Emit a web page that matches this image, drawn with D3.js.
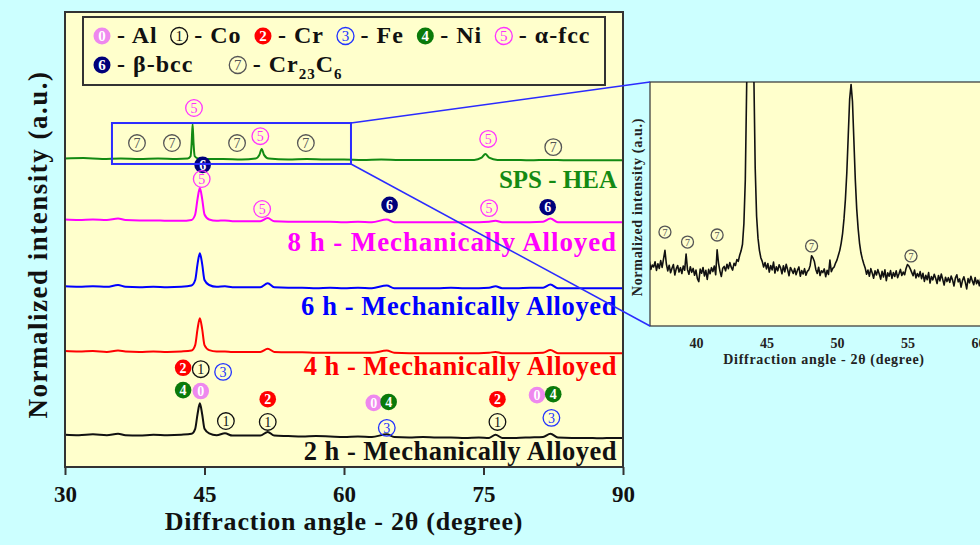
<!DOCTYPE html>
<html>
<head>
<meta charset="utf-8">
<script src="https://cdn.jsdelivr.net/npm/d3@7"></script>
<style>
  body { margin: 0; background: #ccffff; }
  svg { display: block; font-family: "Liberation Serif", "Times New Roman", serif; font-weight: bold; }
</style>
</head>
<body>
<script>
// ---- data ----
const xTicks = [30, 45, 60, 75, 90];
const insetTicks = [40, 45, 50, 55, 60];

// angle grid shared by the four mechanically alloyed scans
const gridMA = [30, 31.5, 33, 34.5, 35.7, 36.5, 38, 39.5, 41, 42.5,
  43.6, 44.0, 44.25, 44.5, 44.75, 45.0, 45.5, 46.3, 47.2, 48.0,
  49.5, 51.0, 51.8, 52.5, 54, 55.5, 57, 58.5, 60, 61.5,
  63, 64.6, 65.4, 67, 68.5, 70, 71.5, 73, 74.5, 75.6,
  76.3, 77, 78.5, 80, 81.4, 82.2, 83, 84.5, 86, 87.5,
  89, 90];
const int2h = [0.1, 0.0, 0.2, 0.0, 0.3, 0.0, -0.1, 0.1, 0.0, 0.1,
  0.3, 1.4, 4.6, 7.0, 4.6, 1.4, 0.4, 0.0, 0.4, -0.1,
  -0.1, -0.1, 0.7, -0.1, -0.2, -0.3, -0.2, -0.3, -0.4, -0.3,
  -0.4, 0.2, -0.4, -0.5, -0.4, -0.5, -0.5, -0.6, -0.5, -0.6,
  0.1, -0.6, -0.6, -0.5, -0.4, 0.3, -0.5, -0.6, -0.6, -0.7,
  -0.6, -0.6];
const int4h = [0.2, 0.1, 0.2, 0.0, 0.3, 0.1, 0.0, 0.1, 0.0, 0.1,
  0.3, 1.5, 5.0, 7.4, 5.0, 1.5, 0.4, 0.1, 0.1, 0.0,
  0.0, 0.0, 0.7, 0.0, -0.1, -0.1, -0.2, -0.2, -0.2, -0.2,
  -0.2, 0.3, -0.2, -0.3, -0.3, -0.3, -0.3, -0.3, -0.3, -0.2,
  0.0, -0.3, -0.3, -0.3, -0.2, 0.4, -0.3, -0.3, -0.3, -0.3,
  -0.3, -0.3];
const int6h = [0.1, 0.0, 0.1, 0.0, 0.4, 0.0, -0.1, 0.0, -0.1, 0.0,
  0.3, 1.5, 5.0, 7.4, 5.0, 1.5, 0.4, 0.0, 0.1, -0.1,
  -0.1, -0.1, 0.8, -0.1, -0.2, -0.2, -0.3, -0.2, -0.3, -0.2,
  -0.3, 0.3, -0.3, -0.3, -0.3, -0.3, -0.2, -0.3, -0.3, -0.2,
  0.1, -0.3, -0.3, -0.2, -0.2, 0.5, -0.3, -0.3, -0.3, -0.3,
  -0.3, -0.3];
const int8h = [0.3, 0.2, 0.3, 0.2, 0.5, 0.2, 0.1, 0.1, 0.0, 0.0,
  0.2, 1.4, 4.8, 7.2, 4.8, 1.4, 0.3, 0.0, 0.1, -0.1,
  -0.1, -0.1, 0.6, -0.1, -0.2, -0.2, -0.2, -0.2, -0.3, -0.2,
  -0.3, 0.3, -0.3, -0.3, -0.3, -0.3, -0.3, -0.3, -0.3, -0.2,
  0.0, -0.3, -0.3, -0.3, -0.2, 0.5, -0.3, -0.3, -0.3, -0.3,
  -0.3, -0.3];

const gridSPS = [30, 32, 34, 36, 38, 40, 42, 43.2, 43.5, 43.62,
  43.72, 43.82, 43.95, 44.3, 45, 47, 49, 50.5, 50.9, 51.15,
  51.4, 51.9, 54, 56, 58, 60, 62, 64, 66, 68,
  70, 72, 74, 74.8, 75.2, 75.6, 76.5, 78, 80, 82,
  84, 86, 88, 90];
const intSPS = [0.1, 0.2, 0.0, 0.1, 0.0, 0.1, 0.0, 0.1, 0.6, 3.5,
  7.7, 3.5, 0.6, 0.1, 0.0, 0.0, -0.1, 0.1, 0.9, 2.2,
  0.9, 0.1, -0.1, 0.0, -0.1, -0.1, -0.2, -0.1, -0.2, -0.2,
  -0.2, -0.2, -0.2, 0.3, 1.1, 0.3, -0.2, -0.2, -0.3, -0.2,
  -0.3, -0.3, -0.3, -0.3];

const seriesNames = ["2 h - Mechanically Alloyed", "4 h - Mechanically Alloyed",
  "6 h - Mechanically Alloyed", "8 h - Mechanically Alloyed", "SPS - HEA"];
const seriesOffsets = [7.0, 25.3, 39.6, 54.1, 67.7];

const legendNums = [0, 1, 2, 3, 4, 5, 6, 7];
const legendText = ["- Al", "- Co", "- Cr", "- Fe", "- Ni", "- α-fcc", "- β-bcc", "- Cr23C6"];

// [phase number, 2θ, level]
const peakMarks = [
  [6, 44.8, 66.4], [5, 44.7, 63.3],
  [5, 43.87, 78.9], [7, 37.74, 71.2], [7, 41.5, 71.2], [7, 48.5, 71.2], [5, 51.0, 72.7],
  [7, 55.9, 71.2], [5, 75.5, 72.1], [7, 82.5, 70.3],
  [5, 51.2, 56.7], [6, 64.9, 57.6], [5, 75.6, 56.9], [6, 81.9, 57.1],
  [2, 42.7, 21.8], [1, 44.6, 21.5], [3, 47.0, 20.9], [4, 42.7, 16.9], [0, 44.6, 16.7],
  [1, 47.3, 10.1], [2, 51.8, 14.9], [1, 51.8, 9.9],
  [0, 63.2, 14.1], [4, 64.8, 14.3], [3, 64.6, 8.6],
  [2, 76.5, 14.9], [1, 76.5, 9.9],
  [0, 80.75, 15.8], [4, 82.5, 16.0], [3, 82.3, 10.8]
];

// SPS-HEA detail scan, 36.0 to 60.9 degree in 0.1 degree steps
const insetStart = 36.0, insetStep = 0.1;
const insetInt = [
  25.2, 23.8, 26.1, 24.5, 22.9, 25.8, 24.1, 26.4, 23.2, 25.0,
  24.2, 26.3, 22.8, 25.5, 23.6, 26.8, 24.0, 27.5, 31.0, 25.4,
  22.6, 24.9, 21.8, 23.7, 25.2, 20.9, 23.4, 24.8, 22.1, 23.9,
  21.5, 24.6, 22.9, 29.5, 23.1, 21.2, 24.3, 22.0, 23.6, 20.8,
  22.9, 19.4, 18.2, 23.3, 21.6, 24.0, 20.5, 22.8, 19.1, 23.2,
  21.4, 23.9, 22.3, 24.6, 21.0, 31.2, 25.8, 22.5, 20.3, 23.7,
  24.4, 22.6, 25.3, 23.5, 26.0, 24.1, 22.9, 25.7, 24.8, 27.2,
  26.5, 29.0, 30.8, 33.5, 42.0, 60.0, 100, 170, 240, 260,
  200, 105, 65, 45, 36, 31, 28, 26.5, 24.2, 26.0,
  23.4, 25.6, 22.1, 24.8, 23.0, 26.2, 21.7, 24.3, 22.6, 25.1,
  23.8, 21.4, 24.7, 22.2, 25.3, 23.1, 20.6, 24.0, 22.8, 21.5,
  23.6, 21.0, 22.9, 24.2, 20.4, 22.7, 21.3, 23.5, 20.8, 22.4,
  23.0, 24.8, 28.8, 27.9, 26.4, 23.2, 21.5, 24.1, 20.7, 22.6,
  21.9, 23.4, 20.2, 22.8, 21.1, 27.0, 22.3, 23.6, 24.2, 25.8,
  27.0, 29.0, 31.0, 34.0, 38.0, 44.0, 52.0, 63.0, 78.0, 93.0,
  99.0, 92.0, 76.0, 60.0, 48.0, 40.0, 34.0, 30.0, 27.5, 25.5,
  23.8, 21.2, 22.9, 20.4, 23.5, 21.7, 19.6, 22.6, 20.9, 23.1,
  21.3, 19.2, 22.4, 20.1, 23.0, 18.6, 21.8, 20.4, 22.7, 19.5,
  21.9, 20.3, 22.6, 19.8, 21.4, 23.2, 20.7, 22.1, 21.0, 23.6,
  25.2, 24.6, 23.4, 22.0, 20.6, 22.9, 19.7, 21.5, 20.2, 22.3,
  19.4, 21.6, 18.3, 20.8, 19.0, 21.9, 17.6, 20.3, 18.9, 21.2,
  19.6, 17.4, 20.7, 18.5, 21.3, 19.1, 16.8, 20.0, 18.2, 19.8,
  17.9, 20.5, 18.8, 16.4, 19.7, 21.0, 18.1, 19.3, 15.9, 18.6,
  20.2, 18.0, 15.2, 19.4, 17.7, 20.4, 18.5, 16.9, 19.9, 17.3,
  18.8, 16.5, 19.6, 17.9, 20.1, 18.2, 16.7, 19.0, 17.5, 18.7
];
// [2θ, level] of the Cr23C6 marks in the detail
const insetMarks = [[37.8, 38.5], [39.4, 34.4], [41.5, 37.3], [48.2, 32.8], [55.25, 28.7]];
const zoomAngles = [35.05, 60.75];
const zoomLevels = [66.6, 75.6];

// ---- layout / style ----
const W = 980, H = 545;
const plot = {left: 65, right: 623, top: 12, bottom: 467};
const inset = {left: 650, right: 985, top: 82, bottom: 326};
const seriesColors = ["#111111", "#ff0000", "#0000ff", "#ff00ff", "#138a13"];
const labelDrop = [25, 23, 28, 30, 29];        // px from trace baseline to label baseline
const labelSize = [26.5, 26.5, 26.5, 27, 25];
const labelSpacing = [0.5, 0.5, 0.6, 0.9, 0];
const markColors = ["#ee88ee", "#111111", "#ff0000", "#2233ff", "#0a7a0a", "#ff33ff", "#00007a", "#555555"];
const filledMarks = [0, 2, 4, 6];
const bg = "#ffffcc", frameCol = "#333";

const svg = d3.select("body").append("svg").attr("width", W).attr("height", H);
svg.append("rect").attr("width", W).attr("height", H).attr("fill", "#ccffff");
const defs = svg.append("defs");

const x = d3.scaleLinear().domain([30, 90]).range([plot.left, plot.right]);
const y = d3.scaleLinear().domain([0, 100]).range([plot.bottom, plot.top]);

function drawMark(g, n, cx, cy, r, fs) {
  const filled = filledMarks.includes(n);
  const col = markColors[n];
  g.append("circle").attr("cx", cx).attr("cy", cy).attr("r", r)
    .attr("fill", filled ? col : "none")
    .attr("stroke", filled ? "none" : col).attr("stroke-width", 1.3);
  g.append("text").attr("x", cx).attr("y", cy).attr("dy", "0.36em")
    .attr("text-anchor", "middle").attr("font-size", fs)
    .attr("font-weight", filled ? "bold" : "normal")
    .attr("fill", filled ? "#fff" : col).text(n);
}

// main plot area
svg.append("rect").attr("x", plot.left).attr("y", plot.top)
  .attr("width", plot.right - plot.left).attr("height", plot.bottom - plot.top).attr("fill", bg);
defs.append("clipPath").attr("id", "mainClip").append("rect")
  .attr("x", plot.left).attr("y", plot.top)
  .attr("width", plot.right - plot.left).attr("height", plot.bottom - plot.top);

const seriesData = [
  [gridMA, int2h], [gridMA, int4h], [gridMA, int6h], [gridMA, int8h], [gridSPS, intSPS]
];
const traces = svg.append("g").attr("clip-path", "url(#mainClip)");
seriesData.forEach(([grid, vals], i) => {
  const pts = grid.map((a, k) => [a, vals[k]]);
  const line = d3.line().x(d => x(d[0])).y(d => y(seriesOffsets[i] + d[1])).curve(d3.curveMonotoneX);
  traces.append("path").datum(pts).attr("d", line)
    .attr("fill", "none").attr("stroke", seriesColors[i]).attr("stroke-width", 2)
    .attr("stroke-linejoin", "round");
  traces.append("text").attr("x", plot.right - 6).attr("y", y(seriesOffsets[i]) + labelDrop[i])
    .attr("text-anchor", "end").attr("font-size", labelSize[i]).attr("letter-spacing", labelSpacing[i])
    .attr("fill", seriesColors[i]).text(seriesNames[i]);
});

const marks = svg.append("g");
peakMarks.forEach(([n, a, lv]) => drawMark(marks, n, x(a), y(lv), 8.3, 14));

// legend
const leg = svg.append("g");
leg.append("rect").attr("x", 83).attr("y", 17).attr("width", 522).attr("height", 68)
  .attr("fill", bg).attr("stroke", frameCol).attr("stroke-width", 2);
function legendRow(items, y0, gap) {
  let cx = 102;
  items.forEach(i => {
    drawMark(leg, legendNums[i], cx, y0 - 7, 8.5, 15);
    const t = leg.append("text").attr("x", cx + 15).attr("y", y0)
      .attr("font-size", 24).attr("letter-spacing", 1).attr("fill", "#111");
    legendText[i].split(/(\d+)/).forEach((part, k) => {
      if (!part) return;
      const sub = k % 2 === 1;
      t.append("tspan").attr("font-size", sub ? 15 : 24)
        .attr("dy", sub ? 7 : (k > 0 ? -7 : 0)).text(part);
    });
    cx += 15 + t.node().getComputedTextLength() + gap + 8.5;
  });
}
legendRow([0, 1, 2, 3, 4, 5], 43, 13);
legendRow([6, 7], 72, 36);

// x axis
const gx = svg.append("g").attr("transform", `translate(0,${plot.bottom})`)
  .call(d3.axisBottom(x).tickValues(xTicks).tickSize(8).tickPadding(11));
gx.select(".domain").remove();
gx.attr("font-family", null).attr("font-size", 23).attr("font-weight", "bold");
gx.selectAll("line").attr("stroke", frameCol).attr("stroke-width", 2);
gx.selectAll("text").attr("fill", "#111");

svg.append("rect").attr("x", plot.left).attr("y", plot.top)
  .attr("width", plot.right - plot.left).attr("height", plot.bottom - plot.top)
  .attr("fill", "none").attr("stroke", frameCol).attr("stroke-width", 2);

svg.append("text").attr("x", (plot.left + plot.right) / 2).attr("y", 530)
  .attr("text-anchor", "middle").attr("font-size", 26).attr("letter-spacing", 0.8)
  .attr("fill", "#111").text("Diffraction angle - 2θ (degree)");
svg.append("text").attr("transform", `translate(47,${(plot.top + plot.bottom) / 2 + 5}) rotate(-90)`)
  .attr("text-anchor", "middle").attr("font-size", 27).attr("letter-spacing", 1.5)
  .attr("fill", "#111").text("Normalized intensity (a.u.)");

// inset
const ix = d3.scaleLinear().domain([36.74, 36.74 + (inset.right - inset.left) / 14.1]).range([inset.left, inset.right]);
const iy = d3.scaleLinear().domain([0, 100]).range([inset.bottom, inset.top]);
svg.append("rect").attr("x", inset.left).attr("y", inset.top)
  .attr("width", inset.right - inset.left).attr("height", inset.bottom - inset.top)
  .attr("fill", bg).attr("stroke", frameCol).attr("stroke-width", 1.2);
defs.append("clipPath").attr("id", "insetClip").append("rect")
  .attr("x", inset.left).attr("y", inset.top)
  .attr("width", inset.right - inset.left).attr("height", inset.bottom - inset.top);
const insetPts = insetInt.map((v, k) => [insetStart + k * insetStep, v]);
svg.append("path").datum(insetPts).attr("clip-path", "url(#insetClip)")
  .attr("d", d3.line().x(d => ix(d[0])).y(d => iy(d[1])))
  .attr("fill", "none").attr("stroke", "#111").attr("stroke-width", 1.6)
  .attr("stroke-linejoin", "round");
const im = svg.append("g");
insetMarks.forEach(([a, lv]) => drawMark(im, 7, ix(a), iy(lv), 6, 10));

const gix = svg.append("g").attr("transform", `translate(0,${inset.bottom})`)
  .call(d3.axisBottom(ix).tickValues(insetTicks).tickSize(0).tickPadding(12));
gix.select(".domain").remove();
gix.attr("font-family", null).attr("font-size", 14).attr("font-weight", "bold");
gix.selectAll("text").attr("fill", "#222");
svg.append("text").attr("x", 824).attr("y", 364).attr("text-anchor", "middle")
  .attr("font-size", 14).attr("letter-spacing", 0.7).attr("fill", "#222")
  .text("Diffraction angle - 2θ (degree)");
svg.append("text").attr("transform", `translate(642,207) rotate(-90)`)
  .attr("text-anchor", "middle").attr("font-size", 14).attr("letter-spacing", 0.7)
  .attr("fill", "#222").text("Normalized intensity (a.u.)");

// zoom window and connector lines
const zx0 = x(zoomAngles[0]), zx1 = x(zoomAngles[1]);
const zy0 = y(zoomLevels[1]), zy1 = y(zoomLevels[0]);
svg.append("rect").attr("x", zx0).attr("y", zy0).attr("width", zx1 - zx0).attr("height", zy1 - zy0)
  .attr("fill", "none").attr("stroke", "#2b2bff").attr("stroke-width", 2);
svg.append("line").attr("x1", zx1).attr("y1", zy0).attr("x2", inset.left).attr("y2", inset.top)
  .attr("stroke", "#2b2bff").attr("stroke-width", 1.5);
svg.append("line").attr("x1", zx1).attr("y1", zy1).attr("x2", inset.left).attr("y2", inset.bottom)
  .attr("stroke", "#2b2bff").attr("stroke-width", 1.5);
</script>
</body>
</html>
